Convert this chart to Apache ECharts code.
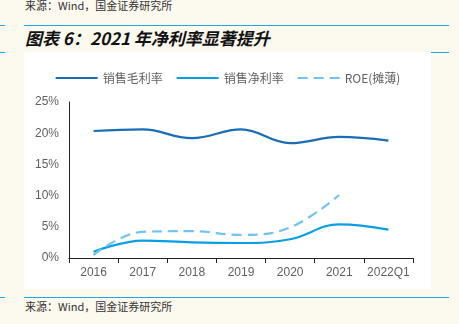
<!DOCTYPE html>
<html><head><meta charset="utf-8">
<script src="https://cdn.jsdelivr.net/npm/echarts@6/dist/echarts.min.js"></script>
<style>
html,body{margin:0;padding:0;width:459px;height:324px;background:#fcf9ef;overflow:hidden;font-family:"Noto Sans CJK SC","Liberation Sans",sans-serif;}
.t{position:absolute;white-space:nowrap;}
.ln{position:absolute;height:1px;background:#1ea6e6;}
</style></head><body>
<div class="t" style="left:25px;top:-3px;font-size:11px;color:#333;">来源：Wind，国金证券研究所</div>
<div class="ln" style="left:0;top:25px;width:5px;"></div>
<div class="ln" style="left:24px;top:25px;width:425px;"></div>
<div class="t" style="left:25px;top:25px;font-size:17px;font-weight:bold;font-style:italic;color:#111;">图表 6：2021 年净利率显著提升</div>
<div class="ln" style="left:0;top:52px;width:5px;"></div>
<div class="ln" style="left:431px;top:52px;width:18px;"></div>
<div id="c" style="position:absolute;left:24px;top:52px;width:407px;height:237px;background:#fff;"></div>
<div class="ln" style="left:0;top:297px;width:5px;"></div>
<div class="ln" style="left:24px;top:297px;width:425px;"></div>
<div class="t" style="left:25px;top:298px;font-size:11px;color:#333;">来源：Wind，国金证券研究所</div>
<script>
const categories = ['2016','2017','2018','2019','2020','2021','2022Q1'];
const grossMargin = [20.35, 20.6, 19.2, 20.6, 18.4, 19.4, 18.8];
const netMargin = [1.0, 2.8, 2.5, 2.4, 3.0, 5.4, 4.55];
const roe = [0.5, 4.2, 4.3, 3.7, 4.9, 10.1, null];
const seriesNames = ['销售毛利率','销售净利率','ROE(摊薄)'];
const yTicks = [0,5,10,15,20,25];

const chart = echarts.init(document.getElementById('c'));
const lab = {color:'#5f5f5f', fontSize:12, fontFamily:'Liberation Sans, Arial, sans-serif'};
chart.setOption({
  animation:false,
  backgroundColor:'#fff',
  legend:{top:15, left:'center', itemWidth:42, itemHeight:10, itemGap:13,
    itemStyle:{opacity:0},
    textStyle:{color:'#5f5f5f', fontSize:12, fontFamily:'Noto Sans CJK SC, sans-serif'},
    data:seriesNames},
  grid:{left:45, right:18, top:50, bottom:31},
  xAxis:{type:'category', data:categories, boundaryGap:true,
    axisLine:{lineStyle:{color:'#222', width:1}},
    axisTick:{show:true, inside:false, length:5, lineStyle:{color:'#222'}},
    axisLabel:Object.assign({margin:9, interval:0}, lab)},
  yAxis:{type:'value', min:yTicks[0], max:yTicks[yTicks.length-1], interval:5,
    axisLine:{show:true, lineStyle:{color:'#222'}},
    axisTick:{show:false},
    splitLine:{show:false},
    axisLabel:Object.assign({margin:10, formatter:v=>v+'%'}, lab)},
  series:[
    {name:seriesNames[0], type:'line', data:grossMargin, smooth:0.4, symbol:'none',
      lineStyle:{color:'#1a6db5', width:2.2}, itemStyle:{color:'#1a6db5'}},
    {name:seriesNames[1], type:'line', data:netMargin, smooth:0.4, symbol:'none',
      lineStyle:{color:'#0a9fe5', width:2.2}, itemStyle:{color:'#0a9fe5'}},
    {name:seriesNames[2], type:'line', data:roe, smooth:0.4, symbol:'none',
      lineStyle:{color:'#6fc3f1', width:2.2, type:[10,6]}, itemStyle:{color:'#6fc3f1'}}
  ]
});
</script>
</body></html>
